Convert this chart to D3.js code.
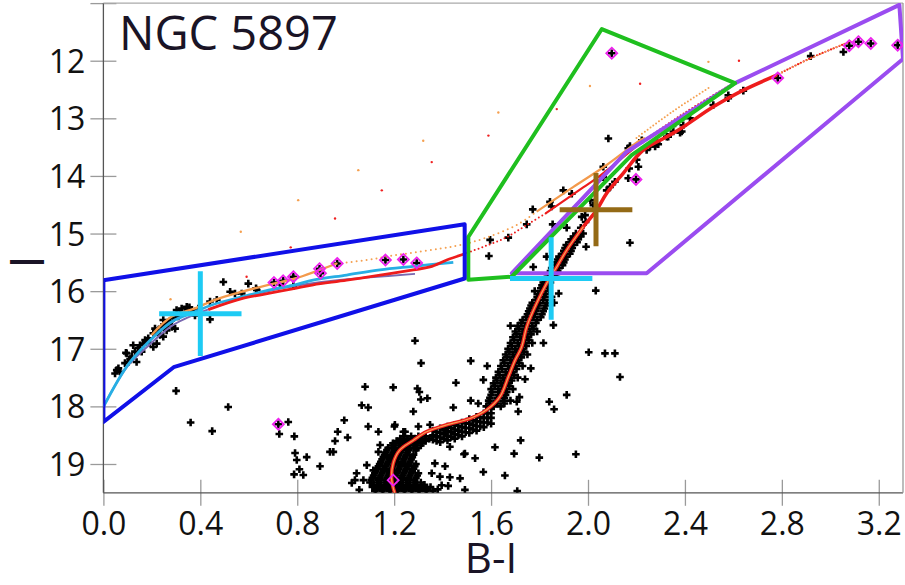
<!DOCTYPE html>
<html><head><meta charset="utf-8">
<script src="https://cdn.jsdelivr.net/npm/d3@7"></script>
<style>body{margin:0;background:#fff}svg{display:block}</style>
</head><body>
<svg id="c" width="905" height="585"></svg>
<script>
// ---------- DATA (B-I, I) ----------
const xTicks = [0.0,0.4,0.8,1.2,1.6,2.0,2.4,2.8,3.2];
const yTicks = [11,12,13,14,15,16,17,18,19];
const yTickLabels = ["","12","13","14","15","16","17","18","19"];

// turnoff blob, rows: [I, [B-I ...]]
const turnoffRows = [
 [19.47,[1.12,1.15,1.18,1.21,1.24,1.27,1.30,1.33,1.36]],
 [19.44,[1.125,1.155,1.185,1.215,1.245,1.275,1.305,1.335,1.38]],
 [19.40,[1.11,1.14,1.17,1.20,1.23,1.26,1.29,1.32,1.35]],
 [19.36,[1.115,1.145,1.175,1.205,1.235,1.265,1.295,1.325]],
 [19.32,[1.10,1.13,1.16,1.19,1.22,1.25,1.28,1.31]],
 [19.28,[1.105,1.135,1.165,1.195,1.225,1.255,1.285]],
 [19.24,[1.11,1.14,1.17,1.20,1.23,1.26,1.29]],
 [19.20,[1.115,1.145,1.175,1.205,1.235,1.265,1.295]],
 [19.16,[1.12,1.15,1.18,1.21,1.24,1.27,1.30]],
 [19.12,[1.125,1.155,1.185,1.215,1.245,1.275]],
 [19.08,[1.13,1.16,1.19,1.22,1.25,1.28]],
 [19.04,[1.135,1.165,1.195,1.225,1.255,1.285]],
 [19.00,[1.14,1.17,1.20,1.23,1.26,1.29]],
 [18.96,[1.145,1.175,1.205,1.235,1.265]],
 [18.92,[1.15,1.18,1.21,1.24,1.27]],
 [18.88,[1.155,1.185,1.215,1.245,1.275]],
 [18.84,[1.16,1.19,1.22,1.25,1.28]],
 [18.80,[1.165,1.195,1.225,1.255]],
 [18.76,[1.17,1.20,1.23,1.26,1.29]],
 [18.72,[1.175,1.205,1.235,1.265,1.295]],
 [18.68,[1.19,1.22,1.25,1.28,1.31]],
 [18.64,[1.195,1.225,1.255,1.285,1.315]],
 [18.60,[1.21,1.24,1.27,1.30,1.33]],
 [18.56,[1.225,1.255,1.285,1.315,1.345]],
 [18.52,[1.24,1.27,1.30,1.33,1.36]]
];
// subgiant branch, columns: [B-I, [I ...]]
const subgiantCols = [
 [1.36,[18.42,18.50,18.58]],
 [1.375,[18.44,18.52,18.60]],
 [1.39,[18.38,18.46,18.54,18.62]],
 [1.405,[18.40,18.48,18.56]],
 [1.42,[18.35,18.43,18.51,18.59]],
 [1.435,[18.37,18.45,18.53]],
 [1.45,[18.32,18.40,18.48,18.56]],
 [1.465,[18.34,18.42,18.50]],
 [1.48,[18.28,18.36,18.44,18.52]],
 [1.495,[18.29,18.37,18.45]],
 [1.51,[18.22,18.30,18.38,18.46]],
 [1.525,[18.24,18.32,18.40]],
 [1.54,[18.18,18.26,18.34,18.42]],
 [1.555,[18.19,18.27,18.35]],
 [1.57,[18.12,18.20,18.28,18.36]],
 [1.585,[18.12,18.20,18.28]],
 [1.60,[18.04,18.12,18.20,18.30]]
];
// red giant branch rows: [I, [B-I ...]]
const rgbRows = [
 [18.00,[1.58,1.61,1.64]],
 [17.95,[1.595,1.625,1.655]],
 [17.90,[1.59,1.62,1.65,1.68]],
 [17.85,[1.595,1.625,1.655]],
 [17.80,[1.60,1.63,1.66]],
 [17.75,[1.605,1.635,1.665]],
 [17.70,[1.60,1.63,1.66,1.69]],
 [17.65,[1.615,1.645,1.675]],
 [17.60,[1.61,1.64,1.67]],
 [17.55,[1.625,1.655,1.685]],
 [17.50,[1.62,1.65,1.68,1.71]],
 [17.45,[1.635,1.665,1.695]],
 [17.40,[1.63,1.66,1.69]],
 [17.35,[1.645,1.675,1.705]],
 [17.30,[1.64,1.67,1.70,1.73]],
 [17.25,[1.655,1.685,1.715]],
 [17.20,[1.65,1.68,1.71]],
 [17.15,[1.665,1.695,1.725]],
 [17.10,[1.66,1.69,1.72,1.75]],
 [17.05,[1.675,1.705,1.735]],
 [17.00,[1.67,1.70,1.73]],
 [16.95,[1.685,1.715,1.745]],
 [16.90,[1.68,1.71,1.74,1.77]],
 [16.85,[1.695,1.725,1.755]],
 [16.80,[1.69,1.72,1.75]],
 [16.75,[1.705,1.735,1.765]],
 [16.70,[1.70,1.73,1.76,1.79]],
 [16.65,[1.715,1.745,1.775]],
 [16.60,[1.68,1.71,1.74,1.77]],
 [16.55,[1.725,1.755,1.785]],
 [16.50,[1.73,1.76,1.79]],
 [16.45,[1.745,1.775,1.805]],
 [16.40,[1.75,1.78,1.81]],
 [16.35,[1.755,1.785,1.815]],
 [16.30,[1.76,1.79,1.82]],
 [16.25,[1.765,1.795,1.825]],
 [16.20,[1.77,1.80,1.83,1.86]],
 [16.15,[1.785,1.815,1.845]],
 [16.10,[1.79,1.82,1.85]],
 [16.05,[1.795,1.825]],
 [16.00,[1.78,1.81,1.84]],
 [15.95,[1.805,1.835]],
 [15.90,[1.81,1.84]],
 [15.85,[1.815,1.845]],
 [15.80,[1.82,1.85]],
 [15.75,[1.835,1.865]],
 [15.70,[1.84,1.87]],
 [15.65,[1.845,1.875]],
 [15.60,[1.85,1.88]],
 [15.55,[1.865,1.895]],
 [15.50,[1.87,1.90]],
 [15.45,[1.875,1.905]],
 [15.40,[1.88,1.91]],
 [15.35,[1.895,1.925]],
 [15.30,[1.90,1.93]],
 [15.25,[1.905,1.935]],
 [15.20,[1.91,1.94]],
 [15.15,[1.925,1.955]],
 [15.10,[1.93,1.96]],
 [15.05,[1.94,1.97]],
 [15.00,[1.95,1.98]],
 [14.90,[1.97]],
 [14.80,[1.99]]
];
const upperRgbStars = [
 [1.974,14.71],[1.988,14.68],[2.010,14.42],[2.022,14.51],[2.077,14.25],[2.091,14.19],[2.063,14.02],
 [2.111,14.10],[2.166,14.04],[2.170,13.87],[2.208,13.84],[2.201,13.72],[2.242,13.55],[2.277,13.49],
 [2.284,13.43],[2.325,13.32],[2.352,13.23],[2.387,13.23],[2.393,13.12],[2.359,13.09],[2.421,13.00],
 [2.222,13.38],[2.256,13.49],[2.290,13.45],[2.331,13.32],[2.380,13.25],
 [2.517,12.77],[2.579,12.60],[2.579,12.65],[2.641,12.52],[2.919,11.92],[3.054,11.85]
];
const hbStars = [
 [0.055,17.37],[0.048,17.43],[0.069,17.40],[0.062,17.34],[0.096,17.08],[0.103,17.23],[0.117,17.14],
 [0.137,17.23],[0.130,17.05],[0.151,16.94],[0.144,16.99],[0.172,16.85],[0.165,16.91],[0.185,16.82],
 [0.192,16.90],[0.206,16.97],[0.220,16.91],[0.206,16.73],[0.227,16.68],[0.247,16.79],[0.254,16.59],
 [0.268,16.56],[0.282,16.62],[0.296,16.65],[0.289,16.47],[0.309,16.44],[0.302,16.33],[0.323,16.30],
 [0.337,16.36],[0.344,16.27],[0.364,16.33],[0.378,16.42],[0.392,16.30],[0.440,16.49],[0.440,16.18],
 [0.468,16.15],[0.495,15.84],[0.523,16.01],[0.543,16.04],[0.571,16.04],[0.598,15.87],[0.630,15.95],
 [0.633,15.98],[0.247,16.50],[0.261,16.68],[0.234,16.76],[0.213,16.65],[0.158,17.05],[0.123,16.94],
 [0.089,17.25],[0.093,17.07],[0.110,17.18],[0.175,16.88],[0.240,16.62],[0.275,16.52],[0.316,16.38],
 [0.355,16.28],[0.729,15.88],[0.784,15.91]
];
const fieldStars = [
 [0.300,17.73],[0.360,18.28],[0.449,18.43],[0.515,18.01],[0.726,18.48],[0.763,18.27],[0.788,18.52],
 [0.791,18.81],[0.798,18.93],[0.839,18.88],[0.787,19.18],[0.809,19.09],[0.825,19.19],[0.894,19.04],
 [0.935,18.79],[0.949,18.79],[0.956,18.60],[0.967,18.44],[0.994,18.24],[1.008,18.54],[1.080,17.66],
 [1.066,17.98],[1.093,18.02],[1.093,18.35],[1.135,18.44],[1.196,17.67],[1.201,18.35],[1.279,18.09],
 [1.286,16.86],[1.311,17.25],[1.296,17.69],[1.304,17.75],[1.310,17.88],[1.337,17.86],[1.348,18.32],
 [1.245,18.44],[1.142,18.67],[1.135,18.79],[1.087,19.02],[1.045,19.16],[1.038,19.28],[1.025,19.33],
 [1.073,19.28],[1.056,19.45],[1.114,19.11],[1.444,18.02],[1.547,17.95],[1.203,18.32],[1.238,18.44],
 [1.300,18.35],[1.410,18.41],[1.430,18.70],[1.492,18.82],[1.534,18.90],[1.568,19.14],[1.368,18.99],
 [1.410,19.04],[1.355,19.16],[1.389,19.22],[1.430,19.23],[1.472,19.25],[1.396,19.37],[1.423,19.38],
 [1.492,19.45],[1.455,17.59],[1.516,17.21],[1.584,17.30],[1.568,17.54],[1.516,17.90],[1.488,18.83],
 [1.616,18.71],[1.657,19.20],[1.695,18.82],[1.722,18.59],[1.708,19.47],[1.799,18.89],[1.950,18.83],
 [1.712,18.09],[1.717,17.84],[1.706,17.92],[1.740,17.53],[1.764,17.34],[1.816,16.90],[1.857,16.59],
 [1.840,17.92],[1.860,18.05],[1.912,17.80],[2.003,17.06],[2.070,17.08],[2.111,17.08],[2.132,17.49],
 [1.879,16.04],[2.032,15.99],[1.992,15.23],[2.173,15.16],[1.829,15.40],[1.774,15.58],[1.747,14.84],
 [1.772,14.58],[1.671,15.07],[1.596,15.11],[1.591,15.39],[1.854,14.84],[1.912,14.90],[2.084,13.35],
 [1.898,14.25],[1.933,14.31],[1.843,14.45],[1.850,14.53],[2.063,13.84],[2.166,13.52],[2.173,13.48]
];
// variable stars (open magenta diamonds)
const varStars = [
 [0.704,15.85],[0.742,15.82],[0.784,15.75],[0.892,15.61],[0.896,15.69],[0.965,15.52],[1.164,15.46],
 [1.238,15.45],[1.293,15.51],[2.098,11.87],[2.198,14.06],[2.783,12.30],[3.078,11.74],[3.116,11.67],
 [3.167,11.70],[3.278,11.73],[0.722,18.31],[1.196,19.28]
];
// isochrones / tracks
const isoMain = [
 [1.203,19.51],[1.190,19.28],[1.196,18.99],[1.223,18.76],[1.279,18.59],[1.334,18.44],[1.417,18.32],
 [1.513,18.21],[1.582,18.06],[1.637,17.83],[1.671,17.49],[1.699,17.20],[1.726,16.97],[1.747,16.62],
 [1.788,16.21],[1.830,15.86],[1.871,15.58],[1.912,15.29],[1.981,14.88],[2.036,14.59],[2.077,14.30],
 [2.146,13.95],[2.228,13.55],[2.325,13.32],[2.393,13.15],[2.517,12.80],[2.627,12.54],[2.779,12.25]
];
const isoMainOrange = [
 [1.203,19.51],[1.190,19.28],[1.196,18.99],[1.223,18.76],[1.279,18.59],[1.334,18.44],[1.417,18.32],
 [1.513,18.21],[1.582,18.06],[1.637,17.83],[1.671,17.49],[1.699,17.20],[1.726,16.97],[1.747,16.62],
 [1.788,16.21],[1.830,15.86],[1.871,15.58],[1.912,15.29],[1.981,14.88]
];
const rgbTipRed = [[2.779,12.25],[2.916,11.96],[3.088,11.66]];
const rgbTipOrange = [[2.80,12.20],[2.95,11.90],[3.07,11.68]];
const hbRed = [[0.433,16.32],[0.571,16.13],[0.681,16.04],[0.791,15.95],[0.866,15.89],[1.004,15.81],
 [1.142,15.72],[1.279,15.63],[1.348,15.58],[1.417,15.46],[1.486,15.36]];
const hbOrange = [[0.199,16.76],[0.282,16.44],[0.378,16.30],[0.461,16.15],[0.571,16.01],[0.681,15.89],
 [0.791,15.78],[0.963,15.52]];
const hbCyan = [[0.0,18.01],[0.096,17.31],[0.172,16.94],[0.282,16.53],[0.378,16.36],[0.447,16.24],
 [0.571,16.10],[0.681,15.98],[0.791,15.89],[0.865,15.81],[1.004,15.72],[1.142,15.63],[1.279,15.57],[1.444,15.50]];
const hbPurple = [[0.0,18.0],[0.10,17.30],[0.18,16.97],[0.29,16.58],[0.45,16.29],[0.70,15.98],
 [0.90,15.84],[1.10,15.76],[1.286,15.70]];
const connOrangeDots = [[0.963,15.52],[1.087,15.46],[1.183,15.39],[1.279,15.33],[1.389,15.26],
 [1.472,15.20],[1.575,15.08],[1.706,14.85],[1.788,14.62]];
const connRedDots = [[1.486,15.36],[1.568,15.23],[1.657,15.08],[1.74,14.87],[1.825,14.65]];
const agbOrange = [[1.788,14.62],[1.94,14.19],[2.077,13.81],[2.215,13.38],[2.235,13.34]];
const agbRed = [[1.825,14.65],[1.98,14.20],[2.036,14.04],[2.215,13.43]];
const agbOrangeDots = [[2.20,13.34],[2.35,12.88],[2.503,12.46]];
const agbRedDots = [[2.215,13.43],[2.40,12.90],[2.60,12.39]];
const orangeDots = [[0.567,14.97],[0.804,14.42],[1.052,13.90],[1.320,13.39],[0.277,16.14],[1.630,12.90],
 [2.008,12.44],[2.497,12.02]];
const redDots = [[0.591,15.75],[0.773,15.24],[0.956,14.74],[1.149,14.25],[1.355,13.76],[1.589,13.30],
 [1.871,12.84],[2.215,12.40],[2.623,12.00]];
// selection boxes
const blueBox = [[0,15.81],[1.491,14.84],[1.491,15.78],[0.29,17.32],[0,18.27]];
const greenBox = [[1.506,15.06],[2.057,11.45],[2.607,12.39],[2.18,13.64],[1.685,15.75],[1.506,15.80]];
const purpleBox = [[1.685,15.69],[2.16,13.58],[2.607,12.39],[3.285,11.03],[3.30,11.97],[2.242,15.69]];
// error crosses: [B-I, I, halfWidth(B-I), halfHeight(I)]
const cyanCrosses = [[0.40,16.39,0.17,0.735],[1.848,15.78,0.17,0.715]];
const brownCrosses = [[2.033,14.585,0.15,0.635]];

// ---------- DRAW ----------
const svg = d3.select("#c");
const x = d3.scaleLinear().domain([0,3.3]).range([103.4,903]);
const y = d3.scaleLinear().domain([11,19.5]).range([3.1,492.8]);
const FONT = "'Open Sans', 'DejaVu Sans', sans-serif";

const flatRows = rows => rows.flatMap(([I,bs]) => bs.map(b => [b,I]));
const flatCols = cols => cols.flatMap(([b,Is]) => Is.map(I => [b,I]));
const allStars = [].concat(flatRows(turnoffRows), flatCols(subgiantCols), flatRows(rgbRows),
  upperRgbStars, hbStars, fieldStars, varStars.slice(0,17));

svg.append("defs").append("clipPath").attr("id","clip")
  .append("rect").attr("x",x(0)).attr("y",y(11)).attr("width",x(3.3)-x(0)).attr("height",y(19.5)-y(11));

// axes
const gx = svg.append("g").attr("transform",`translate(0,${y(19.5)})`)
  .call(d3.axisBottom(x).tickValues(xTicks).tickFormat(d3.format(".1f")).tickSize(0));
gx.select(".domain").remove();
gx.selectAll(".tick line").attr("y1",-13).attr("y2",13).attr("stroke","#9a9a9a").attr("stroke-width",1.3);
gx.selectAll(".tick text").attr("y",42).attr("dy","0").attr("fill","#111")
  .style("font-family",FONT).style("font-size","32px");

const gy = svg.append("g").attr("transform",`translate(${x(0)},0)`)
  .call(d3.axisLeft(y).tickValues(yTicks).tickFormat((d,i)=>yTickLabels[i]).tickSize(0));
gy.select(".domain").remove();
gy.selectAll(".tick line").attr("x1",-13).attr("x2",13).attr("stroke","#9a9a9a").attr("stroke-width",1.3);
gy.selectAll(".tick text").attr("x",-18).attr("dy","0.36em").attr("fill","#111")
  .style("font-family",FONT).style("font-size","32px");

// frame
svg.append("line").attr("x1",x(0)).attr("x2",x(3.3)).attr("y1",y(19.5)).attr("y2",y(19.5)).attr("stroke","#555").attr("stroke-width",1.3);
svg.append("line").attr("x1",x(0)).attr("x2",x(0)).attr("y1",y(11)).attr("y2",y(19.5)).attr("stroke","#555").attr("stroke-width",1.3);
svg.append("line").attr("x1",x(0)).attr("x2",x(3.3)).attr("y1",y(11)).attr("y2",y(11)).attr("stroke","#aaa").attr("stroke-width",1.3);
svg.append("line").attr("x1",x(3.3)).attr("x2",x(3.3)).attr("y1",y(11)).attr("y2",y(19.5)).attr("stroke","#999").attr("stroke-width",1.3);

const plot = svg.append("g").attr("clip-path","url(#clip)");
const line = d3.line().x(d=>x(d[0])).y(d=>y(d[1])).curve(d3.curveCatmullRom.alpha(0.5));
const poly = d3.line().x(d=>x(d[0])).y(d=>y(d[1]));

// stars
plot.append("g").selectAll("path").data(allStars).join("path")
  .attr("transform",d=>`translate(${x(d[0])},${y(d[1])})`)
  .attr("d","M-3.8,0H3.8M0,-3.8V3.8").attr("stroke","#000").attr("stroke-width",2.6).attr("fill","none");

// sparse dots
plot.append("g").selectAll("circle").data(orangeDots).join("circle")
  .attr("cx",d=>x(d[0])).attr("cy",d=>y(d[1])).attr("r",1.2).attr("fill","#f5a050");
plot.append("g").selectAll("circle").data(redDots).join("circle")
  .attr("cx",d=>x(d[0])).attr("cy",d=>y(d[1])).attr("r",1.2).attr("fill","#f02020");

function drawLine(data,color,w,dash){
  const p = plot.append("path").datum(data).attr("d",line).attr("fill","none")
    .attr("stroke",color).attr("stroke-width",w);
  if(dash){p.attr("stroke-dasharray",dash).attr("stroke-linecap","round");}
  return p;
}
// HB
drawLine(hbPurple,"#7a68b0",2);
drawLine(hbCyan,"#27aee4",2.8);
drawLine(hbRed,"#ee1c1c",2.8);
drawLine(hbOrange,"#f39a4c",2.4);
drawLine(connOrangeDots,"#f5a050",2,"0,5");
drawLine(connRedDots,"#ee1c1c",2,"0,4");
// AGB
drawLine(agbOrange,"#f39a4c",2.2);
drawLine(agbRed,"#ee1c1c",2.2);
drawLine(agbOrangeDots,"#f5a050",2,"0,3.5");
drawLine(agbRedDots,"#ee1c1c",2,"0,3.5");
// main
drawLine(isoMain,"#ee1c1c",3.6);
drawLine(isoMainOrange,"#f5a255",1.3);
drawLine(rgbTipRed,"#ee1c1c",2.2,"0,3");
drawLine(rgbTipOrange,"#f5a050",1.8,"0,4");

// boxes
plot.append("path").datum(purpleBox).attr("d",d=>poly(d)+"Z").attr("fill","none").attr("stroke","#9a4cf0").attr("stroke-width",4).attr("stroke-linejoin","round");
plot.append("path").datum(greenBox).attr("d",d=>poly(d)+"Z").attr("fill","none").attr("stroke","#1fbf1f").attr("stroke-width",4).attr("stroke-linejoin","round");
plot.append("path").datum(blueBox).attr("d",d=>poly(d)+"Z").attr("fill","none").attr("stroke","#1010e8").attr("stroke-width",4).attr("stroke-linejoin","round");

// variable stars
plot.append("g").selectAll("path").data(varStars).join("path")
  .attr("transform",d=>`translate(${x(d[0])},${y(d[1])})`)
  .attr("d","M0,-5.5L5.5,0L0,5.5L-5.5,0Z").attr("fill","none").attr("stroke","#ee22ee").attr("stroke-width",1.8);

// error crosses
function drawCross(data,color){
  const g = plot.append("g");
  data.forEach(([cx,cy,hw,hh])=>{
    g.append("line").attr("x1",x(cx-hw)).attr("x2",x(cx+hw)).attr("y1",y(cy)).attr("y2",y(cy)).attr("stroke",color).attr("stroke-width",5);
    g.append("line").attr("x1",x(cx)).attr("x2",x(cx)).attr("y1",y(cy-hh)).attr("y2",y(cy+hh)).attr("stroke",color).attr("stroke-width",5);
  });
}
drawCross(cyanCrosses,"#1ecbf4");
drawCross(brownCrosses,"#946a16");

// texts
svg.append("text").attr("x",119).attr("y",50).text("NGC 5897")
  .style("font-family",FONT).style("font-size","47px").attr("fill","#1a1426");
svg.append("text").attr("x",491).attr("y",573).attr("text-anchor","middle").text("B-I")
  .style("font-family",FONT).style("font-size","42px").attr("fill","#1a1426");
svg.append("text").attr("transform","translate(44,262) rotate(-90)").attr("text-anchor","middle").text("I")
  .style("font-family",FONT).style("font-size","47px").attr("fill","#1a1426");
</script>
</body></html>
